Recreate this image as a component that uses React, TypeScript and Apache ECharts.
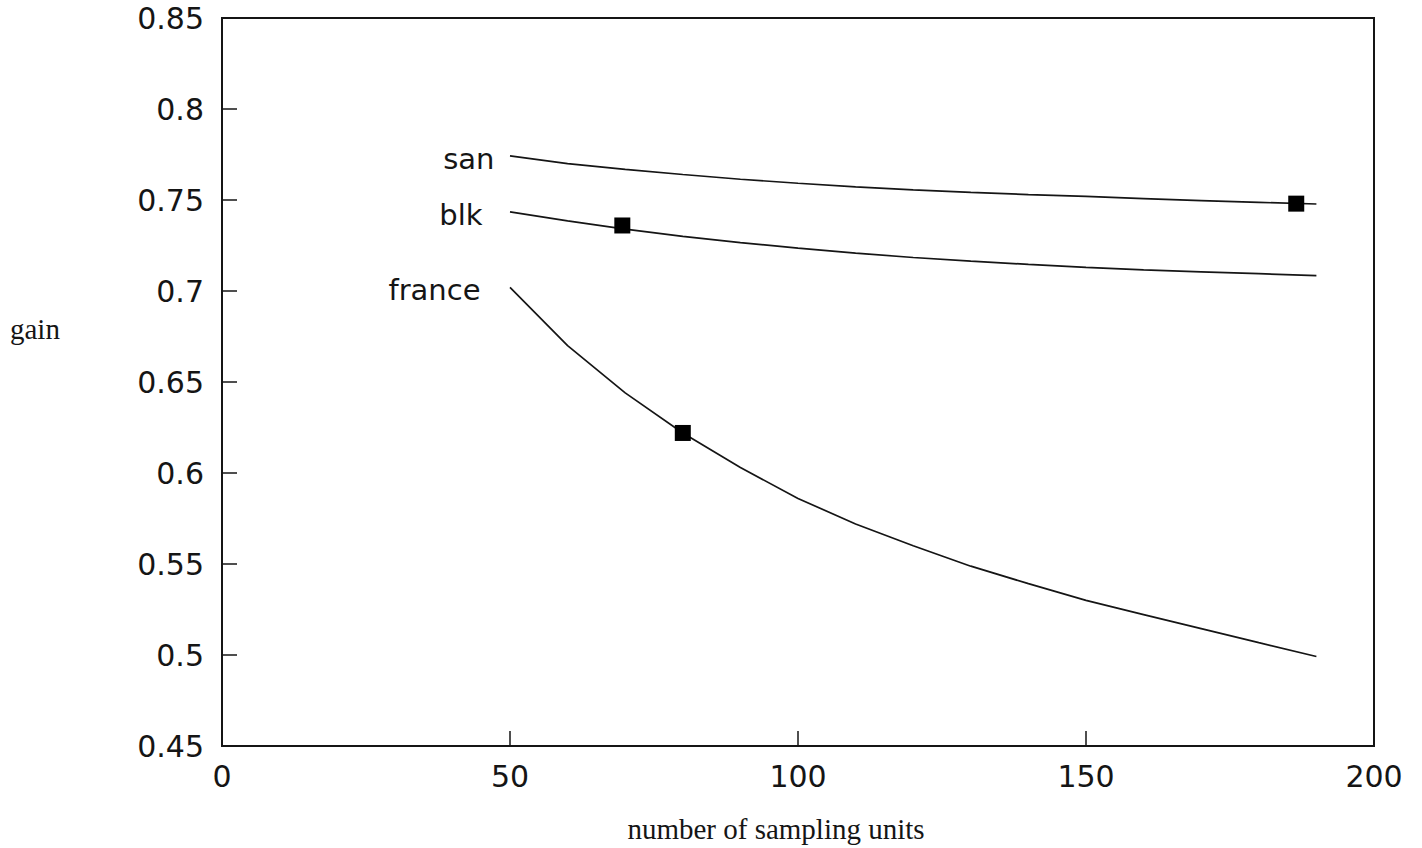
import React, { useEffect, useRef } from "react";
import * as echarts from "echarts";

// Number of sampling units at which each gain curve is evaluated
const sampleSizes = [50, 60, 70, 80, 90, 100, 110, 120, 130, 140, 150, 160, 170, 180, 190];

// Gain per dataset
const sanGain = [0.7742, 0.7700, 0.7668, 0.7640, 0.7614, 0.7592, 0.7572, 0.7556, 0.7542, 0.7530, 0.7520, 0.7508, 0.7497, 0.7487, 0.7478];
const blkGain = [0.7435, 0.7385, 0.7340, 0.7300, 0.7266, 0.7236, 0.7208, 0.7184, 0.7164, 0.7146, 0.7130, 0.7116, 0.7105, 0.7095, 0.7085];
const franceGain = [0.7020, 0.6700, 0.6440, 0.6220, 0.6030, 0.5860, 0.5720, 0.5600, 0.5488, 0.5392, 0.5300, 0.5222, 0.5145, 0.5068, 0.4992];

// Highlighted operating points: [sampling units, gain]
const sanMarker = [186.5, 0.748];
const blkMarker = [69.5, 0.736];
const franceMarker = [80, 0.622];

const seriesNames = ["san", "blk", "france"];
const labelGaps = [15, 27, 29];

const xTicks = { min: 0, max: 200, interval: 50 };
const yTicks = { min: 0.45, max: 0.85, interval: 0.05 };

const INK = "#151515";
const SANS = "'DejaVu Sans', 'Liberation Sans', sans-serif";
const SERIF = "'Liberation Serif', 'DejaVu Serif', serif";

export default function App() {
  const ref = useRef<HTMLDivElement>(null);

  useEffect(() => {
    if (!ref.current) return;
    const chart = echarts.init(ref.current, undefined, { renderer: "svg" });

    const curves = [sanGain, blkGain, franceGain];

    const lineSeries = curves.map((vals, i) => ({
      type: "line",
      name: seriesNames[i],
      showSymbol: false,
      symbol: "none",
      smooth: false,
      lineStyle: { color: INK, width: 1.7, opacity: 1 },
      data: vals.map((v, j) => [sampleSizes[j], v]),
      z: 2,
    }));

    // Curve names written to the left of each curve's first point
    const nameSeries = curves.map((vals, i) => ({
      type: "scatter",
      name: seriesNames[i] + " label",
      symbolSize: 1,
      itemStyle: { color: "#ffffff", opacity: 1 },
      label: {
        show: true,
        position: "left",
        distance: labelGaps[i],
        offset: [0, 3],
        formatter: seriesNames[i],
        color: INK,
        opacity: 1,
        fontFamily: SANS,
        fontSize: 29,
      },
      data: [[sampleSizes[0], vals[0]]],
      z: 1,
    }));

    const tickStyle = { show: true, inside: true, length: 15, lineStyle: { color: INK, width: 1.5 } };

    const option: any = {
      animation: false,
      backgroundColor: "#ffffff",
      grid: {
        left: 222,
        right: 48,
        top: 18,
        bottom: 102,
        show: true,
        borderColor: INK,
        borderWidth: 2,
        backgroundColor: "transparent",
        z: 0,
      },
      xAxis: {
        type: "value",
        min: xTicks.min,
        max: xTicks.max,
        interval: xTicks.interval,
        name: "number of sampling units",
        nameLocation: "middle",
        nameGap: 68,
        nameTextStyle: {
          fontFamily: SERIF,
          fontSize: 29,
          color: INK,
          padding: [0, 44, 0, 0],
        },
        axisLine: { show: true, onZero: false, lineStyle: { color: INK, width: 2 } },
        axisTick: tickStyle,
        axisLabel: { fontFamily: SANS, fontSize: 30, color: INK, margin: 15 },
        splitLine: { show: false },
        z: 5,
      },
      yAxis: {
        type: "value",
        min: yTicks.min,
        max: yTicks.max,
        interval: yTicks.interval,
        axisLine: { show: true, onZero: false, lineStyle: { color: INK, width: 2 } },
        axisTick: tickStyle,
        axisLabel: {
          fontFamily: SANS,
          fontSize: 30,
          color: INK,
          margin: 18,
          formatter: (v: number) => String(parseFloat(v.toFixed(2))),
        },
        splitLine: { show: false },
        z: 5,
      },
      graphic: [
        {
          type: "text",
          left: 10,
          top: 314,
          style: { text: "gain", fontFamily: SERIF, fontSize: 29, fill: INK },
        },
      ],
      series: [
        ...lineSeries,
        ...nameSeries,
        {
          type: "scatter",
          name: "markers",
          symbol: "rect",
          symbolSize: 16,
          itemStyle: { color: "#000000", opacity: 1 },
          data: [sanMarker, blkMarker, franceMarker],
          z: 3,
        },
      ],
    };

    chart.setOption(option);
    return () => chart.dispose();
  }, []);

  return (
    <div
      ref={ref}
      style={{ position: "fixed", left: 0, top: 0, width: 1422, height: 848, background: "#fff" }}
    />
  );
}
